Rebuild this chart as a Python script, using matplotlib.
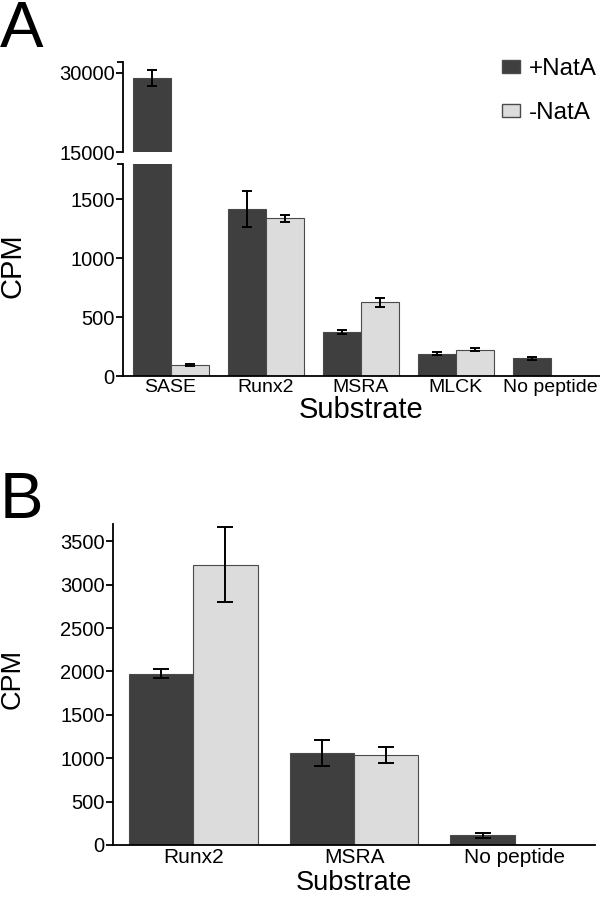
import numpy as np
import matplotlib.pyplot as plt
from matplotlib.patches import Patch

plt.rcParams['font.family'] = ['Liberation Sans', 'DejaVu Sans']

# ── data ──────────────────────────────────────────────────────────────
subs_a = ["SASE", "Runx2", "MSRA", "MLCK", "No peptide"]
plus_a = [28900, 1420, 375, 190, 150]
plus_a_err = [1500, 155, 18, 10, 10]
minus_a = [90, 1340, 625, 225, np.nan]
minus_a_err = [8, 30, 40, 10, np.nan]

subs_b = ["Runx2", "MSRA", "No peptide"]
plus_b = [1975, 1065, 110]
plus_b_err = [50, 150, 25]
minus_b = [3230, 1040, np.nan]
minus_b_err = [430, 90, np.nan]

DARK = "#3f3f3f"
LIGHT = "#dcdcdc"
EDGE = "#4a4a4a"
W = 0.4


def draw_bars(ax, x, plus, plus_err, minus, minus_err, capsize):
    ax.bar(x - W / 2, plus, W, color=DARK, edgecolor=EDGE, linewidth=0.8)
    ax.bar(x + W / 2, minus, W, color=LIGHT, edgecolor=EDGE, linewidth=0.8)
    ax.errorbar(x - W / 2, plus, yerr=plus_err, fmt="none", ecolor="black",
                elinewidth=1.4, capsize=capsize, capthick=1.4)
    ax.errorbar(x + W / 2, minus, yerr=minus_err, fmt="none", ecolor="black",
                elinewidth=1.4, capsize=capsize, capthick=1.4)


def style(ax):
    for s in ("top", "right"):
        ax.spines[s].set_visible(False)
    for s in ("left", "bottom"):
        ax.spines[s].set_linewidth(1.3)
    ax.tick_params(axis="both", labelsize=14.5, width=1.3, length=5, pad=1)


fig = plt.figure(figsize=(6, 9.1), dpi=100)

# ── panel A (broken axis) ─────────────────────────────────────────────
xa = np.arange(len(subs_a))
ax_lo = fig.add_axes([123 / 600, 1 - 376 / 910, 477 / 600, 212 / 910])
ax_hi = fig.add_axes([123 / 600, 1 - 152 / 910, 477 / 600, 90 / 910])
for ax in (ax_lo, ax_hi):
    draw_bars(ax, xa, plus_a, plus_a_err, minus_a, minus_a_err, 3.6)
    style(ax)
    ax.set_xlim(-0.5, 4.52)

ax_lo.set_ylim(0, 1800)
ax_lo.set_yticks([0, 500, 1000, 1500])
ax_lo.set_yticks([1800], minor=True)
ax_lo.tick_params(axis="y", which="minor", length=4, width=1.3)
ax_lo.set_xticks(xa)
ax_lo.set_xticklabels(subs_a)
ax_lo.tick_params(axis="x", length=0, pad=2, labelsize=14)
ax_lo.set_xlabel("Substrate", fontsize=21, labelpad=0)

ax_hi.set_ylim(15000, 32000)
ax_hi.set_yticks([15000, 30000])
ax_hi.set_yticks([32000], minor=True)
ax_hi.tick_params(axis="y", which="minor", length=4, width=1.3)
ax_hi.spines["bottom"].set_visible(False)
ax_hi.set_xticks([])

fig.text(13 / 600, 1 - 266 / 910, "CPM", rotation=90, fontsize=21,
         ha="center", va="center")
fig.text(0, 1, "A", fontsize=47, ha="left", va="top")

handles = [Patch(facecolor=DARK, edgecolor=EDGE, label="+NatA"),
           Patch(facecolor=LIGHT, edgecolor=EDGE, label="-NatA")]
fig.legend(handles=handles, loc="upper left",
           bbox_to_anchor=(502 / 600, 1 - 58 / 910), frameon=False,
           fontsize=17.5, handlelength=0.72, handleheight=0.47,
           handletextpad=0.4, labelspacing=0.9, borderaxespad=0,
           borderpad=0)

# ── panel B ───────────────────────────────────────────────────────────
xb = np.arange(len(subs_b))
ax_b = fig.add_axes([113 / 600, 1 - 845 / 910, 482 / 600, 321 / 910])
draw_bars(ax_b, xb, plus_b, plus_b_err, minus_b, minus_b_err, 6)
style(ax_b)
ax_b.set_xlim(-0.5, 2.5)
ax_b.set_ylim(0, 3700)
ax_b.set_yticks(np.arange(0, 3501, 500))
ax_b.set_xticks(xb)
ax_b.set_xticklabels(subs_b)
ax_b.tick_params(axis="x", length=0, pad=2, labelsize=15)
ax_b.set_xlabel("Substrate", fontsize=19.5, labelpad=2)

fig.text(13 / 600, 1 - 679 / 910, "CPM", rotation=90, fontsize=19.5,
         ha="center", va="center")
fig.text(0, 1 - 471 / 910, "B", fontsize=47, ha="left", va="top")

fig.savefig("out.png", dpi=100)
